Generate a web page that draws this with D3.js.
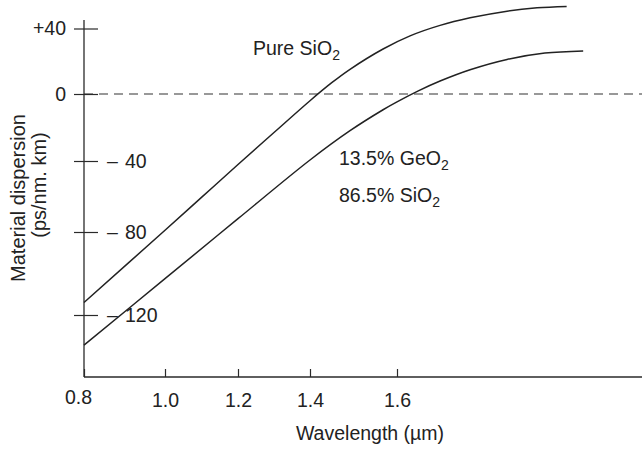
<!DOCTYPE html>
<html><head><meta charset="utf-8">
<script src="https://cdn.jsdelivr.net/npm/d3@7"></script>
<style>
body{margin:0;background:#fff;}
svg{display:block;}
text{font-family:"Liberation Sans",Arial,Helvetica,sans-serif;fill:#222;}
</style>
</head><body>
<svg id="c" width="644" height="449"></svg>
<script>
// ---- data ----
const xTicks = [0.8, 1.0, 1.2, 1.4, 1.6];
const xTickLabels = ["0.8", "1.0", "1.2", "1.4", "1.6"];
const yTicks = [40, 0, -40, -80, -120];
const yTickLabels = ["+40", "0", "–40", "–80", "–120"];
const pureWl = [0.80, 1.00, 1.10, 1.20, 1.30, 1.40, 1.45, 1.492, 1.568, 1.630, 1.699, 1.768, 1.853, 1.922, 1.990];
const pureD  = [-114, -79, -60.5, -42, -23, -4.0, 6.9, 15.1, 27.5, 35.5, 41.9, 46.5, 50.6, 52.6, 53.5];
const geoWl  = [0.80, 1.00, 1.20, 1.40, 1.492, 1.568, 1.60, 1.649, 1.699, 1.768, 1.853, 1.940, 2.028];
const geoD   = [-134.5, -102.5, -72.5, -39.4, -21.9, -9.4, -4.7, 1.9, 7.9, 14.8, 21.1, 25.0, 26.3];
const xTitle = "Wavelength (µm)";
const yTitle1 = "Material dispersion";
const yTitle2 = "(ps/nm. km)";

// ---- layout ----
const svg = d3.select("#c");
const frame = {left: 84, right: 642, top: 20, bottom: 377};
const fs = 19.5;
// the original figure's axes are not evenly spaced: piecewise scales
const x = d3.scaleLinear().domain(xTicks).range([84, 165, 238, 310, 397]);
const y = d3.scaleLinear().domain(yTicks).range([28.5, 94, 161, 232, 315]);
const ink = "#2a2a2a";

// zero dashed line
svg.append("line")
  .attr("x1", frame.left).attr("x2", frame.right)
  .attr("y1", y(0)).attr("y2", y(0))
  .attr("stroke", "#333").attr("stroke-width", 1.2)
  .attr("stroke-dasharray", "9,6");

// axes lines
svg.append("line").attr("x1", frame.left).attr("x2", frame.left)
  .attr("y1", frame.top).attr("y2", frame.bottom)
  .attr("stroke", ink).attr("stroke-width", 1.3);
svg.append("line").attr("x1", frame.left).attr("x2", frame.right)
  .attr("y1", frame.bottom).attr("y2", frame.bottom)
  .attr("stroke", ink).attr("stroke-width", 1.3);

// x axis ticks (pointing up)
const gx = svg.append("g").attr("transform", `translate(0,${frame.bottom})`)
  .call(d3.axisBottom(x).tickValues(xTicks)
    .tickFormat((d, i) => xTickLabels[i]).tickSize(-8).tickPadding(16));
gx.select(".domain").remove();
gx.selectAll(".tick line").attr("stroke", ink).attr("stroke-width", 1.2);
gx.selectAll(".tick text")
  .attr("font-size", fs).attr("fill", "#222")
  .attr("font-family", "Liberation Sans, Arial, sans-serif")
  .attr("dx", d => d === 0.8 ? -6 : 0)
  .attr("y", d => d === 0.8 ? 13 : 16);

// y axis ticks (crossing the axis)
const gy = svg.append("g").attr("transform", `translate(${frame.left},0)`)
  .call(d3.axisLeft(y).tickValues(yTicks).tickFormat("").tickSize(10));
gy.select(".domain").remove();
gy.selectAll(".tick line").attr("stroke", ink).attr("stroke-width", 1.2);
gy.selectAll(".tick").append("line").attr("x1", 0).attr("x2", 14)
  .attr("stroke", ink).attr("stroke-width", 1.2);

// y tick labels
yTicks.forEach((v, i) => {
  const lab = yTickLabels[i];
  const t = svg.append("text").attr("font-size", fs).attr("y", y(v)).attr("dy", "0.35em");
  if (lab.startsWith("–")) {
    t.append("tspan").attr("x", 107).text("–");
    t.append("tspan").attr("x", 125).text(lab.slice(1));
  } else {
    t.attr("x", 66).attr("text-anchor", "end").text(lab);
  }
});

// curves
const line = d3.line().x(d => x(d[0])).y(d => y(d[1])).curve(d3.curveCatmullRom.alpha(0.5));
svg.append("path").datum(d3.zip(pureWl, pureD)).attr("d", line)
  .attr("fill", "none").attr("stroke", "#222").attr("stroke-width", 1.5);
svg.append("path").datum(d3.zip(geoWl, geoD)).attr("d", line)
  .attr("fill", "none").attr("stroke", "#222").attr("stroke-width", 1.5);

// annotations with subscripts
function chem(xp, yp, main, sub) {
  const t = svg.append("text").attr("x", xp).attr("y", yp).attr("font-size", fs);
  t.append("tspan").text(main);
  t.append("tspan").attr("font-size", 14).attr("dy", 5).text(sub);
}
chem(253, 55, "Pure SiO", "2");
chem(339, 165, "13.5% GeO", "2");
chem(339, 202, "86.5% SiO", "2");

// axis titles
svg.append("text").attr("x", 370).attr("y", 440).attr("text-anchor", "middle")
  .attr("font-size", fs).text(xTitle);
svg.append("text").attr("transform", "translate(25,198) rotate(-90)")
  .attr("text-anchor", "middle").attr("font-size", 20).text(yTitle1);
svg.append("text").attr("transform", "translate(46,185) rotate(-90)")
  .attr("text-anchor", "middle").attr("font-size", 20).text(yTitle2);
</script>
</body></html>
